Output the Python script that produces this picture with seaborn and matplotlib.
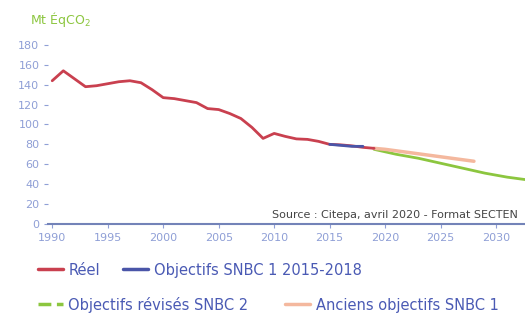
import pandas as pd
import numpy as np
import seaborn as sns
import matplotlib.pyplot as plt
from matplotlib.lines import Line2D

# emissions values (Mt eq CO2)
reel_years = list(range(1990, 2020))
reel_values = [144, 154, 146, 138, 139, 141, 143, 144, 142, 135,
               127, 126, 124, 122, 116, 115, 111, 106, 97, 86,
               91, 88, 85.5, 85, 83, 80, 79.5, 78.5, 77, 76]
snbc1_years = [2015, 2016, 2017, 2018]
snbc1_values = [80, 79, 78, 78]
anciens_years = [2019, 2020, 2022, 2024, 2026, 2028]
anciens_values = [76, 75, 72, 69, 66, 63]
snbc2_years = [2019, 2021, 2023, 2025, 2027, 2029, 2031, 2033]
snbc2_values = [75, 70, 66, 61, 56, 51, 47, 44]

col_reel = "#c9404f"
col_snbc1 = "#4a55a8"
col_snbc2 = "#8cc63f"
col_anciens = "#f4b89e"
col_ticks = "#8f9fd6"
col_text = "#4a5ab4"

sns.set_style("white")
plt.rcParams['font.family'] = ['DejaVu Sans']

fig = plt.figure(figsize=(5.25, 3.14), dpi=100)
ax = fig.add_axes([0.091, 0.287, 0.909, 0.573])

sns.lineplot(x=snbc2_years, y=snbc2_values, color=col_snbc2, lw=2, ax=ax)
sns.lineplot(x=anciens_years, y=anciens_values, color=col_anciens, lw=2.5, ax=ax)
sns.lineplot(x=reel_years, y=reel_values, color=col_reel, lw=2, ax=ax)
sns.lineplot(x=snbc1_years, y=snbc1_values, color=col_snbc1, lw=2, ax=ax)

ax.set_xlim(1989.6, 2032.6)
ax.set_ylim(0, 181)
ax.set_xticks(range(1990, 2031, 5))
ax.set_yticks(range(0, 181, 20))
for s in ["top", "right", "left"]:
    ax.spines[s].set_visible(False)
ax.spines["bottom"].set_color("#7383b8")
ax.spines["bottom"].set_linewidth(1.5)
ax.tick_params(axis="both", colors=col_ticks, labelsize=8, length=3, width=0.8,
               direction="out", left=True, bottom=True)
ax.tick_params(axis="y", pad=3)
ax.set_xlabel("")
ax.set_ylabel("")

fig.text(0.057, 0.925, "Mt ÉqCO$_2$", color=col_snbc2, fontsize=9)
ax.text(0.985, 0.02, "Source : Citepa, avril 2020 - Format SECTEN",
        transform=ax.transAxes, ha="right", va="bottom", fontsize=8, color="#444444")

h1 = [Line2D([], [], color=col_reel, lw=2.5), Line2D([], [], color=col_snbc1, lw=2.5)]
h2 = [Line2D([], [], color=col_snbc2, lw=2.5, ls="--"), Line2D([], [], color=col_anciens, lw=2.5)]
kw = dict(frameon=False, fontsize=10.5, handlelength=1.7, handletextpad=0.4,
          labelcolor=col_text, loc="center left", borderaxespad=0, borderpad=0)
leg1 = fig.legend(h1, ["Réel", "Objectifs SNBC 1 2015-2018"], ncol=2,
                  bbox_to_anchor=(0.072, 0.14), columnspacing=1.6, **kw)
leg2 = fig.legend(h2, ["Objectifs révisés SNBC 2", "Anciens objectifs SNBC 1"], ncol=2,
                  bbox_to_anchor=(0.072, 0.03), columnspacing=2.5, **kw)

fig.savefig("out.png", dpi=100)
